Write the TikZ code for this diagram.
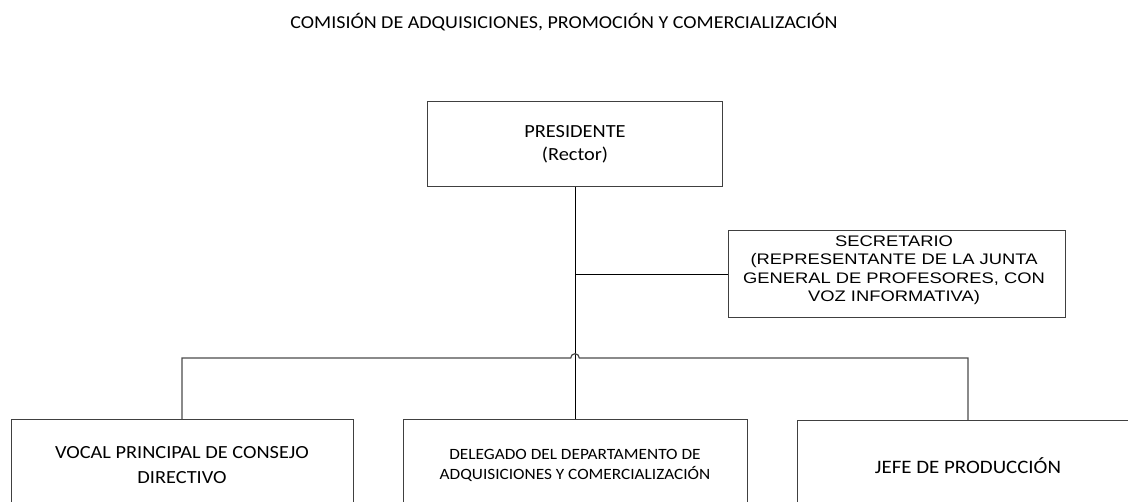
\documentclass[tikz,border=0pt]{standalone}
\usepackage{fontspec}
\setmainfont[FakeStretch=1.1]{Carlito}
\newfontfamily\arialfont[FakeStretch=1.2]{Liberation Sans}
\begin{document}
\begin{tikzpicture}[x=1pt,y=-1pt,
  orgbox/.style={draw=black!75, line width=1pt, fill=white, align=center, inner sep=0pt},
  link/.style={draw=black, line width=1pt},
  bus/.style={draw=black!70, line width=1.2pt}]
\useasboundingbox (0,0) rectangle (1128,502);
\clip (0,0) rectangle (1128,502);
\fill[white] (0,0) rectangle (1128,502);

\node[font=\fontsize{18.2}{22}\selectfont] (title) at (564,22) {COMISIÓN DE ADQUISICIONES, PROMOCIÓN Y COMERCIALIZACIÓN};

\node[orgbox, minimum width=295, minimum height=85, font=\fontsize{18.5}{23}\selectfont] (pres) at (575,144.5) {PRESIDENTE\\(Rector)};

\node[orgbox, minimum width=337, minimum height=87] (sec) at (896.5,274.5) {};
\node[align=center, inner sep=0pt, font=\arialfont\fontsize{15.3}{18.5}\selectfont] (sectext) at (894,270) {SECRETARIO\\(REPRESENTANTE DE LA JUNTA\\GENERAL DE PROFESORES, CON\\VOZ INFORMATIVA)};

\node[orgbox, minimum width=342, minimum height=90, font=\fontsize{18.5}{25}\selectfont] (voc) at (182,465) {VOCAL PRINCIPAL DE CONSEJO\\DIRECTIVO};
\node[orgbox, minimum width=344, minimum height=90, font=\fontsize{15.7}{20}\selectfont] (del) at (575,465) {DELEGADO DEL DEPARTAMENTO DE\\ADQUISICIONES Y COMERCIALIZACIÓN};
\node[orgbox, minimum width=342, minimum height=90, font=\fontsize{19}{23}\selectfont] (jefe) at (968,465.5) {JEFE DE PRODUCCIÓN};

\coordinate (hopL) at (570.7,358);
\coordinate (busR) at (968,358);

\draw[link] (pres.south) -- (del.north);
\draw[link] (sec.west) -- (sec.west -| pres.south);
\draw[bus] (voc.north) |- (hopL) arc[start angle=180, end angle=0, radius=4.3pt] -- (busR) -- (jefe.north);
\end{tikzpicture}
\end{document}
